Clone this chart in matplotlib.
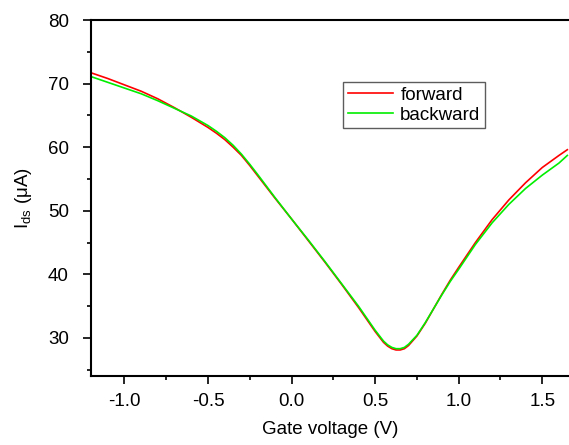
import matplotlib
matplotlib.use("Agg")
import matplotlib.pyplot as plt
from matplotlib.ticker import MultipleLocator

plt.rcParams['font.family'] = ['Liberation Sans', 'DejaVu Sans']

# Transfer curve: drain current vs gate voltage, forward and backward sweeps
vg_fwd = [-1.2, -1.1, -1.0, -0.9, -0.8, -0.7, -0.6, -0.5, -0.45, -0.4, -0.35, -0.3,
          -0.25, -0.2, -0.1, 0.0, 0.1, 0.2, 0.3, 0.4, 0.45, 0.5, 0.55, 0.575, 0.6,
          0.625, 0.65, 0.675, 0.7, 0.75, 0.8, 0.85, 0.9, 0.95, 1.0, 1.1, 1.2, 1.3,
          1.4, 1.5, 1.6, 1.65]
ids_fwd = [71.7, 70.8, 69.8, 68.8, 67.6, 66.2, 64.7, 63.1, 62.2, 61.2, 60.0, 58.7,
           57.1, 55.4, 52.0, 48.7, 45.3, 41.9, 38.4, 34.8, 32.9, 31.0, 29.3, 28.7, 28.3,
           28.1, 28.1, 28.3, 28.8, 30.3, 32.3, 34.6, 36.9, 39.1, 41.1, 45.0, 48.6, 51.7,
           54.4, 56.8, 58.7, 59.6]

vg_bwd = [-1.2, -1.1, -1.0, -0.9, -0.8, -0.7, -0.6, -0.5, -0.45, -0.4, -0.35, -0.3,
          -0.25, -0.2, -0.1, 0.0, 0.1, 0.2, 0.3, 0.4, 0.45, 0.5, 0.55, 0.575, 0.6,
          0.625, 0.65, 0.675, 0.7, 0.75, 0.8, 0.85, 0.9, 0.95, 1.0, 1.1, 1.2, 1.3,
          1.4, 1.5, 1.6, 1.65]
ids_bwd = [71.1, 70.2, 69.3, 68.4, 67.3, 66.1, 64.9, 63.4, 62.5, 61.5, 60.3, 58.9,
           57.3, 55.6, 52.1, 48.7, 45.4, 42.0, 38.5, 35.0, 33.1, 31.2, 29.5, 28.9, 28.5,
           28.3, 28.3, 28.5, 29.0, 30.4, 32.4, 34.6, 36.8, 38.9, 40.8, 44.7, 48.1, 51.0,
           53.5, 55.6, 57.5, 58.7]

fig = plt.figure(figsize=(5.69, 4.45), dpi=100)
ax = fig.add_axes([0.16, 0.155, 0.84, 0.80])

ax.plot(vg_fwd, ids_fwd, color='#ff0000', lw=1.2, label='forward')
ax.plot(vg_bwd, ids_bwd, color='#00ee00', lw=1.2, label='backward')

ax.set_xlim(-1.2, 1.66)
ax.set_ylim(24, 80)
ax.xaxis.set_minor_locator(MultipleLocator(0.25))
ax.yaxis.set_minor_locator(MultipleLocator(5))
ax.set_yticks([30, 40, 50, 60, 70, 80])
ax.set_xticks([-1.0, -0.5, 0.0, 0.5, 1.0, 1.5])
ax.set_xticklabels(['-1.0', '-0.5', '0.0', '0.5', '1.0', '1.5'])

ax.spines['right'].set_visible(False)
for side in ('left', 'bottom', 'top'):
    ax.spines[side].set_linewidth(1.5)
ax.tick_params(which='major', direction='out', length=6, width=1.2,
               labelsize=13.5, pad=6)
ax.tick_params(axis='y', which='major', pad=10)
ax.tick_params(which='minor', direction='out', length=3, width=1.2)
ax.tick_params(top=False, right=False, which='both')

ax.set_xlabel('Gate voltage (V)', fontsize=13.5, labelpad=8)
ax.set_ylabel(r'I$_{\mathregular{ds}}$ (μA)', fontsize=13.5, labelpad=10)

leg = ax.legend(loc='upper left', bbox_to_anchor=(0.603, 0.816),
                bbox_transform=fig.transFigure, fontsize=13.5, frameon=True,
                fancybox=False, edgecolor='#333333', handlelength=2.4,
                handletextpad=0.4, borderpad=0.25, labelspacing=0.15,
                borderaxespad=0)
leg.get_frame().set_linewidth(1.0)

fig.savefig('out.png', dpi=100)
